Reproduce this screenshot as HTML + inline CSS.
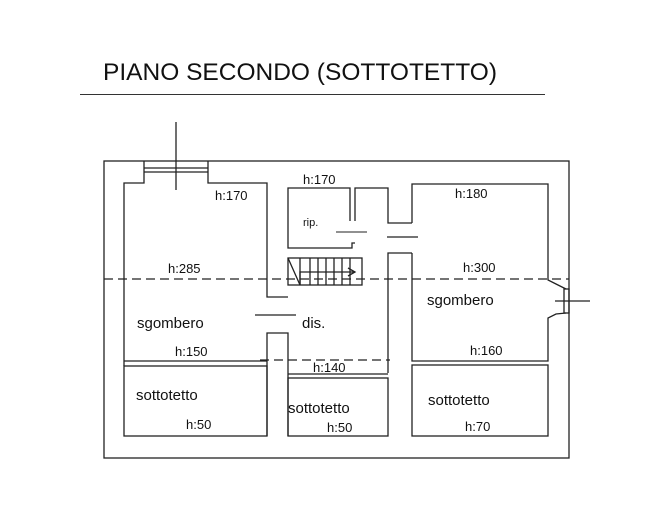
<!DOCTYPE html>
<html><head><meta charset="utf-8"><style>
html,body{margin:0;padding:0;background:#fff;}
svg{display:block;}
text{font-family:"Liberation Sans",Arial,sans-serif;fill:#111;}
</style></head><body>
<svg width="654" height="506" viewBox="0 0 654 506" xmlns="http://www.w3.org/2000/svg">
<text x="103" y="80" font-size="24" textLength="394" lengthAdjust="spacingAndGlyphs">PIANO SECONDO (SOTTOTETTO)</text>
<line x1="80" y1="94.5" x2="545" y2="94.5" stroke="#333" stroke-width="1"/>
<g fill="none" stroke="#222" stroke-width="1.3">
<!-- outer -->
<rect x="104" y="161" width="465" height="297"/>
<!-- left room -->
<polyline points="124,366 124,183 144,183 144,161"/>
<polyline points="208,161 208,183 267,183 267,297 288,297"/>
<line x1="144" y1="168" x2="208" y2="168"/>
<line x1="144" y1="172" x2="208" y2="172"/>
<line x1="176" y1="122" x2="176" y2="190"/>
<line x1="124" y1="361" x2="267" y2="361"/>
<!-- rip -->
<polyline points="350,221 350,188 288,188 288,248 352,248 352,243 355,243"/>
<polyline points="355,221 355,188 388,188 388,223 412,223"/>
<line x1="336" y1="232" x2="367" y2="232" stroke-width="1"/>
<line x1="387" y1="237" x2="418" y2="237"/>
<!-- stairs -->
<rect x="288" y="258" width="74" height="27"/>
<line x1="300" y1="258" x2="300" y2="285"/>
<line x1="310" y1="258" x2="310" y2="285"/>
<line x1="318" y1="258" x2="318" y2="285"/>
<line x1="326" y1="258" x2="326" y2="285"/>
<line x1="334" y1="258" x2="334" y2="285"/>
<line x1="342" y1="258" x2="342" y2="285"/>
<line x1="350" y1="258" x2="350" y2="285"/>
<line x1="288" y1="258" x2="300" y2="285"/>
<polyline points="300,285 300,272 355,272"/>
<polyline points="348,268 355,272 348,276"/>
<!-- dis right wall -->
<polyline points="388,373 388,253 412,253"/>
<!-- right room -->
<polyline points="412,253 412,361 548,361 548,318 556,314 566,313"/>
<polyline points="412,223 412,184 548,184 548,280 556,284 566,289"/>
<rect x="564" y="289" width="5" height="24"/>
<line x1="555" y1="301" x2="590" y2="301"/>
<!-- dis line -->
<line x1="255" y1="315" x2="296" y2="315"/>
<!-- column -->
<polyline points="267,436 267,333 288,333 288,436"/>
<!-- sottotetto rooms -->
<rect x="124" y="366" width="143" height="70"/>
<rect x="288" y="378" width="100" height="58"/>
<rect x="412" y="365" width="136" height="71"/>
<line x1="288" y1="374" x2="388" y2="374"/>
</g>
<g stroke="#222" stroke-width="1.2" stroke-dasharray="9,5">
<line x1="104" y1="279" x2="569" y2="279"/>
<line x1="260" y1="360" x2="390" y2="360"/>
</g>
<g font-size="13">
<text x="215" y="200">h:170</text>
<text x="168" y="273">h:285</text>
<text x="175" y="356">h:150</text>
<text x="186" y="429">h:50</text>
<text x="303" y="184">h:170</text>
<text x="313" y="372">h:140</text>
<text x="327" y="432">h:50</text>
<text x="455" y="198">h:180</text>
<text x="463" y="272">h:300</text>
<text x="470" y="355">h:160</text>
<text x="465" y="431">h:70</text>
<text x="303" y="226" font-size="11">rip.</text>
</g>
<g font-size="15">
<text x="137" y="328">sgombero</text>
<text x="136" y="400">sottotetto</text>
<text x="302" y="328">dis.</text>
<text x="288" y="413">sottotetto</text>
<text x="427" y="305">sgombero</text>
<text x="428" y="405">sottotetto</text>
</g>
</svg>
</body></html>
